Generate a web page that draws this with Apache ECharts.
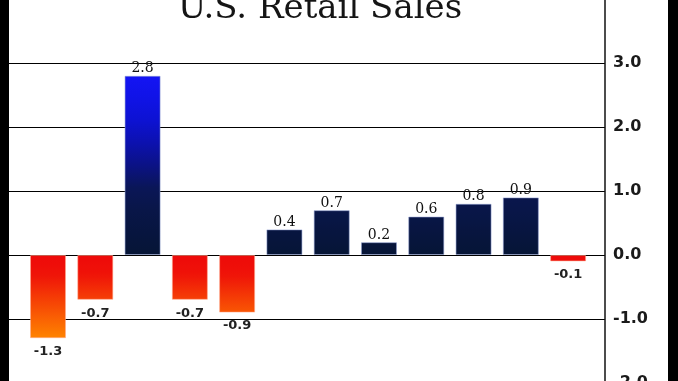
<!DOCTYPE html>
<html>
<head>
<meta charset="utf-8">
<script src="https://cdn.jsdelivr.net/npm/echarts@6/dist/echarts.min.js"></script>
<style>
  html, body { margin: 0; padding: 0; background: #000; width: 678px; height: 381px; overflow: hidden; }
  #chart { position: absolute; left: 9px; top: 0; width: 659px; height: 381px; background: #fff; }
</style>
</head>
<body>
<div id="chart"></div>
<script>
// ---- data ----
const titleText = 'U.S. Retail Sales';
const barIndex = [1, 2, 3, 4, 5, 6, 7, 8, 9, 10, 11, 12];
const salesChange = [-1.3, -0.7, 2.8, -0.7, -0.9, 0.4, 0.7, 0.2, 0.6, 0.8, 0.9, -0.1];
const yTicks = [-2, -1, 0, 1, 2, 3, 4];

// ---- colour helpers ----
const posScale = [[0, '#061536'], [1.0, '#0a1650'], [1.6, '#0b10a0'], [2.2, '#0d12dc'], [2.8, '#1414f4']];
const negScale = [[0, '#ee0a0a'], [-0.3, '#ef1208'], [-1.3, '#ff8400']];
function hex2rgb(h) { return [parseInt(h.substr(1, 2), 16), parseInt(h.substr(3, 2), 16), parseInt(h.substr(5, 2), 16)]; }
function colorAt(scale, u) {
  const a = Math.abs(u);
  for (let i = 0; i < scale.length - 1; i++) {
    const a0 = Math.abs(scale[i][0]), a1 = Math.abs(scale[i + 1][0]);
    if (a <= a1 || i === scale.length - 2) {
      let t = (a - a0) / (a1 - a0); t = Math.max(0, Math.min(1, t));
      const c0 = hex2rgb(scale[i][1]), c1 = hex2rgb(scale[i + 1][1]);
      const c = c0.map((v, k) => Math.round(v + (c1[k] - v) * t));
      return 'rgb(' + c.join(',') + ')';
    }
  }
  return scale[0][1];
}
function barGradient(v) {
  const stops = [];
  const n = 8;
  for (let k = 0; k <= n; k++) {
    const off = k / n;
    const u = v >= 0 ? v * (1 - off) : v * off;
    stops.push({ offset: off, color: colorAt(v >= 0 ? posScale : negScale, u) });
  }
  return new echarts.graphic.LinearGradient(0, 0, 0, 1, stops);
}

const seriesData = barIndex.map((x, i) => {
  const v = salesChange[i];
  const pos = v >= 0;
  return {
    value: [x, v],
    itemStyle: {
      color: barGradient(v),
      borderColor: pos ? 'rgba(140,155,205,0.55)' : 'rgba(255,170,140,0.55)',
      borderWidth: 1
    },
    label: pos ? {
      show: true, position: 'top', distance: 0,
      fontFamily: 'DejaVu Serif', fontSize: 14, color: '#111',
      formatter: () => v.toFixed(1)
    } : {
      show: true, position: 'bottom', distance: 7,
      fontFamily: 'DejaVu Sans', fontWeight: 'bold', fontSize: 13, color: '#222',
      formatter: () => v.toFixed(1)
    }
  };
});

const chart = echarts.init(document.getElementById('chart'), null, { renderer: 'canvas' });
chart.setOption({
  animation: false,
  backgroundColor: '#fff',
  title: {
    text: titleText,
    left: 306, textAlign: 'center', top: -13,
    textStyle: { fontFamily: 'DejaVu Serif', fontSize: 34, fontWeight: 'normal', color: '#151515' }
  },
  grid: { left: 0, right: 63, top: -1, height: 384, containLabel: false, outerBoundsMode: 'none' },
  xAxis: {
    type: 'value', min: 0.175, max: 12.78, show: false
  },
  yAxis: {
    type: 'value', position: 'right',
    min: yTicks[0], max: yTicks[yTicks.length - 1], interval: 1,
    axisLine: { show: true, lineStyle: { color: '#111', width: 1.5 } },
    axisTick: { show: false },
    axisLabel: {
      show: true, margin: 8, showMaxLabel: false,
      fontFamily: 'DejaVu Sans', fontWeight: 'bold', fontSize: 16, color: '#1a1a1a',
      formatter: v => v.toFixed(1)
    },
    splitLine: { show: true, lineStyle: { color: '#000', width: 1 } }
  },
  series: [{
    type: 'bar',
    barWidth: 36,
    data: seriesData
  }]
});
</script>
</body>
</html>
